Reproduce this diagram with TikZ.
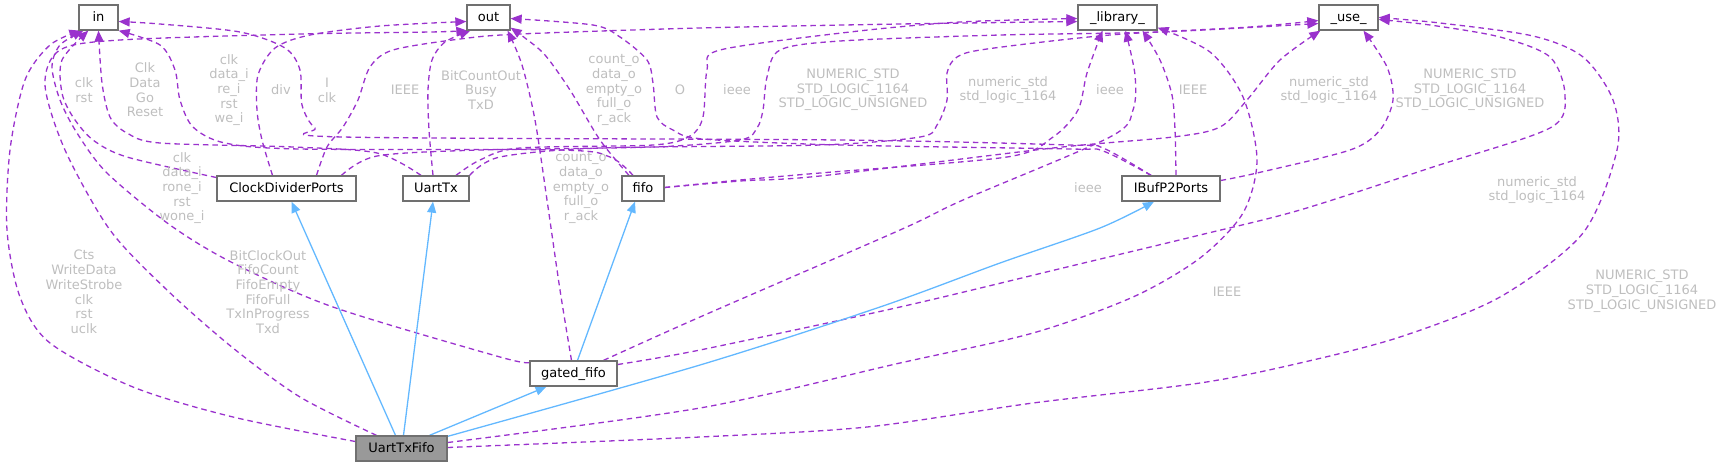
\documentclass[tikz,border=0pt]{standalone}
\usepackage{fontspec}
\setmainfont{DejaVu Sans}
\usetikzlibrary{arrows.meta}
\definecolor{edgepurple}{HTML}{9A32CD}
\definecolor{edgeblue}{HTML}{63B8FF}
\definecolor{boxgray}{HTML}{707070}
\definecolor{lblgray}{HTML}{BEBEBE}
\definecolor{mainfill}{HTML}{999999}
\pgfdeclarelayer{bg}
\pgfsetlayers{bg,main}
\tikzset{
  box/.style={draw=boxgray, line width=1.3pt, fill=white, minimum height=25pt, inner sep=0pt,
    text height=10pt, text depth=3pt, font=\fontsize{13}{15}\selectfont},
  lbl/.style={text=lblgray, align=center, inner sep=0pt, font=\fontsize{13}{14.7}\selectfont},
  use edge/.style={draw=edgepurple, line width=1.3pt, dash pattern=on 5.5pt off 4pt,
    -{Triangle[length=11pt,width=9pt,fill=edgepurple]}},
  inh edge/.style={draw=edgeblue, line width=1.3pt,
    -{Triangle[length=11pt,width=9pt,fill=edgeblue]}},
}
\begin{document}
\begin{tikzpicture}[x=1pt,y=-1pt]
\useasboundingbox (0,0) rectangle (1726,467);
% nodes
\node[box, minimum width=39pt] (in) at (98.5,17.5) {in};
\node[box, minimum width=43pt] (out) at (488.5,17.5) {out};
\node[box, minimum width=79pt] (lib) at (1117.5,17.5) {\_library\_};
\node[box, minimum width=59pt] (use) at (1348.5,17.5) {\_use\_};
\node[box, minimum width=139pt] (cdp) at (286.5,188.5) {ClockDividerPorts};
\node[box, minimum width=66pt] (utx) at (436,188.5) {UartTx};
\node[box, minimum width=42pt] (fifo) at (643,188.5) {fifo};
\node[box, minimum width=98pt] (ibuf) at (1171,188.5) {IBufP2Ports};
\node[box, minimum width=87pt] (gf) at (573.5,373.5) {gated\_fifo};
\node[box, minimum width=91pt, fill=mainfill] (utf) at (401.5,448.5) {UartTxFifo};

\begin{pgfonlayer}{bg}
% UartTxFifo -> in
\draw[use edge] plot[smooth] coordinates {([yshift=7pt]utf.west) (233,417) (133,387) (50,343) (20,297) (7,230) (10,150) (25,80) (50,45) ([xshift=2pt]in.south west)};
% UartTxFifo -> out
\draw[use edge] plot[smooth] coordinates {([xshift=-25pt]utf.north) (300,397) (233,348) (167,290) (110,230) (65,150) (45,85) (60,50) (120,40) (300,34) (430,32) ([xshift=1pt]out.south west)};
% gated_fifo -> in
\draw[use edge] plot[smooth] coordinates {([yshift=11pt]gf.west) (500,357) (333,307) (233,263) (170,225) (107,173) (77,133) (60,100) (52,67) (60,45) ([xshift=5pt]in.south west)};
% ClockDividerPorts -> in
\draw[use edge] plot[smooth] coordinates {([yshift=11pt]cdp.west) (127,157) (93,140) (73,117) (62,93) (62,60) ([xshift=10pt]in.south west)};
% UartTx -> in
\draw[use edge] plot[smooth] coordinates {([xshift=-15pt]utx.north) (377,153) (293,147) (160,143) (127,133) (110,117) (102,83) (in.south)};
% fifo -> in
\draw[use edge] plot[smooth] coordinates {([xshift=-10pt]fifo.north) (610,157) (560,150) (300,149) (225,143) (193,127) (180,100) (175,70) (160,45) (in.south east)};
% IBufP2Ports -> in
\draw[use edge] plot[smooth] coordinates {([xshift=-20pt]ibuf.north) (1103,148) (1070,145) (840,140) (343,137) (315,128) (302,105) (300,70) (285,48) (240,32) (160,24) ([yshift=-4pt]in.east)};
% IBufP2Ports -> out
\draw[use edge] plot[smooth] coordinates {([xshift=-20pt]ibuf.north) (1103,151) (1070,149) (840,145) (703,139) (673,130) (657,117) (653,83) (647,60) (620,37) (593,25) ([yshift=-1pt]out.east)};
% ClockDividerPorts -> out
\draw[use edge] plot[smooth] coordinates {([xshift=-14pt]cdp.north) (262,140) (257,110) (258,75) (275,48) (310,35) (380,26) ([yshift=-4pt]out.west)};
% UartTx -> out
\draw[use edge] plot[smooth] coordinates {([xshift=-3pt]utx.north) (429,130) (428,90) (432,60) (445,42) ([xshift=4pt]out.south west)};
% gated_fifo -> out
\draw[use edge] plot[smooth] coordinates {([xshift=-2pt]gf.north) (560,290) (547,200) (535,120) (522,65) ([xshift=-3pt]out.south east)};
% fifo -> out
\draw[use edge] plot[smooth] coordinates {([xshift=-14pt]fifo.north) (600,140) (570,90) (545,55) (525,38) ([yshift=3pt]out.south east)};
% ClockDividerPorts -> _library_
\draw[use edge] plot[smooth] coordinates {([xshift=30pt]cdp.north) (327,147) (343,127) (358,100) (370,67) (393,50) (460,39) (520,34) (700,28) (900,24) ([yshift=-4pt]lib.west)};
% UartTx -> _library_
\draw[use edge] plot[smooth] coordinates {([xshift=20pt]utx.north) (480,160) (520,148) (653,145) (690,136) (703,117) (707,70) (720,50) (850,32) (960,22) ([yshift=-1pt]lib.west)};
% ClockDividerPorts -> _use_
\draw[use edge] plot[smooth] coordinates {([xshift=55pt]cdp.north) (377,156) (480,150) (653,147) (740,140) (757,128) (763,110) (767,77) (780,50) (840,41) (1000,35) (1160,32) ([yshift=-6pt]use.west)};
% UartTx -> _use_
\draw[use edge] plot[smooth] coordinates {(utx.north east) (500,157) (600,148) (820,145) (920,137) (937,125) (947,100) (947,73) (957,57) (987,49) (1110,35) (1250,27) ([yshift=-3pt]use.west)};
% fifo -> _library_
\draw[use edge] plot[smooth] coordinates {([yshift=1pt]fifo.east) (740,180) (820,173) (1007,157) (1053,137) (1078,110) (1087,73) ([xshift=-15pt]lib.south)};
% fifo -> _use_
\draw[use edge] plot[smooth] coordinates {([yshift=1pt]fifo.east) (740,181) (820,176) (1053,148) (1173,137) (1220,127) (1247,100) (1280,60) ([xshift=2pt]use.south west)};
% IBufP2Ports -> _library_
\draw[use edge] plot[smooth] coordinates {([xshift=5pt]ibuf.north) (1175,130) (1172,95) (1160,60) ([xshift=25pt]lib.south)};
% IBufP2Ports -> _use_
\draw[use edge] plot[smooth] coordinates {([yshift=8pt]ibuf.east) (1257,173) (1350,150) (1380,130) (1393,100) (1387,67) ([xshift=15pt]use.south)};
% gated_fifo -> _library_
\draw[use edge] plot[smooth] coordinates {([xshift=30pt]gf.north) (700,317) (900,230) (963,200) (1110,137) (1133,110) (1135,75) ([xshift=8pt]lib.south)};
% gated_fifo -> _use_
\draw[use edge] plot[smooth] coordinates {([yshift=9pt]gf.east) (700,350) (900,307) (1067,267) (1200,235) (1300,210) (1433,167) (1550,128) (1565,95) (1550,57) (1500,37) (1430,25) ([yshift=-2pt]use.east)};
% UartTxFifo -> _library_
\draw[use edge] plot[smooth] coordinates {([yshift=6pt]utf.east) (700,408) (900,363) (1033,333) (1133,297) (1200,258) (1243,213) (1257,160) (1243,97) (1210,52) ([yshift=3pt]lib.south east)};
% UartTxFifo -> _use_
\draw[use edge] plot[smooth] coordinates {([yshift=1pt]utf.east) (700,437) (867,427) (1033,403) (1200,383) (1300,363) (1400,337) (1500,297) (1583,233) (1617,150) (1613,100) (1583,57) (1533,36) (1440,23) (use.east)};
% inheritance / composition (blue)
\draw[inh edge] ([xshift=-6pt]utf.north) -- ([xshift=5pt]cdp.south);
\draw[inh edge] ([xshift=2pt]utf.north) -- ([xshift=-3pt]utx.south);
\draw[inh edge] ([xshift=28pt]utf.north) -- ([xshift=-27pt]gf.south);
\draw[inh edge] ([xshift=4pt]gf.north) -- ([xshift=-8pt]fifo.south);
\draw[inh edge] plot[smooth] coordinates {([yshift=-1pt]utf.north east) (700,365) (880,307) (1000,263) (1100,228) ([xshift=-17pt]ibuf.south)};
\end{pgfonlayer}

% labels
\node[lbl] (l1) at (84,292) {Cts\\WriteData\\WriteStrobe\\clk\\rst\\uclk};
\node[lbl] (l2) at (268,292) {BitClockOut\\FifoCount\\FifoEmpty\\FifoFull\\TxInProgress\\Txd};
\node[lbl] (l3) at (182,188) {clk\\data\_i\\rone\_i\\rst\\wone\_i};
\node[lbl] (l4) at (581,188) {count\_o\\data\_o\\empty\_o\\full\_o\\r\_ack};
\node[lbl] (l5) at (1088,188) {ieee};
\node[lbl] (l6) at (1537,190) {numeric\_std\\std\_logic\_1164};
\node[lbl] (l7) at (1227,292) {IEEE};
\node[lbl] (l8) at (1642,291) {NUMERIC\_STD\\STD\_LOGIC\_1164\\STD\_LOGIC\_UNSIGNED};
\node[lbl] (l9) at (84,90) {clk\\rst};
\node[lbl] (l10) at (145,90) {Clk\\Data\\Go\\Reset};
\node[lbl] (l11) at (229,90) {clk\\data\_i\\re\_i\\rst\\we\_i};
\node[lbl] (l12) at (281,90) {div};
\node[lbl] (l13) at (327,90) {I\\clk};
\node[lbl] (l14) at (405,90) {IEEE};
\node[lbl] (l15) at (481,90) {BitCountOut\\Busy\\TxD};
\node[lbl] (l16) at (614,90) {count\_o\\data\_o\\empty\_o\\full\_o\\r\_ack};
\node[lbl] (l17) at (680,90) {O};
\node[lbl] (l18) at (737,90) {ieee};
\node[lbl] (l19) at (853,90) {NUMERIC\_STD\\STD\_LOGIC\_1164\\STD\_LOGIC\_UNSIGNED};
\node[lbl] (l20) at (1008,90) {numeric\_std\\std\_logic\_1164};
\node[lbl] (l21) at (1110,90) {ieee};
\node[lbl] (l22) at (1193,90) {IEEE};
\node[lbl] (l23) at (1329,90) {numeric\_std\\std\_logic\_1164};
\node[lbl] (l24) at (1470,90) {NUMERIC\_STD\\STD\_LOGIC\_1164\\STD\_LOGIC\_UNSIGNED};
\end{tikzpicture}
\end{document}
